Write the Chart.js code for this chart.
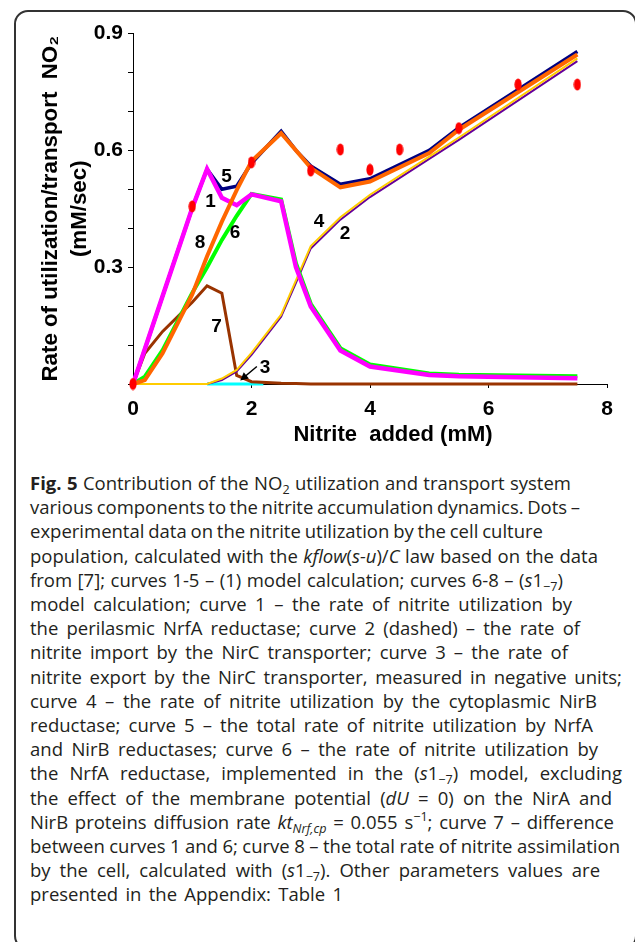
<!DOCTYPE html>
<html>
<head>
<meta charset="utf-8">
<script src="https://cdn.jsdelivr.net/npm/chart.js@4.4.0/dist/chart.umd.min.js"></script>
<style>
  html, body { margin: 0; padding: 0; background: #fff; }
  body { width: 635px; height: 942px; position: relative; overflow: hidden; }
  .frame { position: absolute; left: 14px; top: 10px; width: 623px; height: 940px; box-sizing: border-box;
           border: 2px solid #333; border-radius: 14px; }
  .chartbox { position: absolute; left: 0; top: 0; width: 635px; height: 460px; }
  .caption { position: absolute; left: 30px; top: 471px; font-family: "Open Sans", sans-serif; font-size: 18.5px;
             line-height: 24.2px; color: #231f20; white-space: nowrap; }
  .caption div { width: max-content; }
  .caption b { font-weight: 700; }
  .caption sub, .caption sup { font-size: 0.68em; line-height: 0; }
  .caption sub { vertical-align: -0.3em; }
  .caption sup { vertical-align: 0.6em; }
</style>
</head>
<body>
<div class="frame"></div>
<div class="chartbox"><canvas id="myChart"></canvas></div>
<div class="caption" id="caption">
<div><b>Fig. 5</b> Contribution of the NO<sub>2</sub> utilization and transport system</div>
<div>various components to the nitrite accumulation dynamics. Dots –</div>
<div>experimental data on the nitrite utilization by the cell culture</div>
<div>population, calculated with the <i>kflow</i>(<i>s-u</i>)/<i>C</i> law based on the data</div>
<div>from [7]; curves 1-5 – (1) model calculation; curves 6-8 – (<i>s</i>1<sub>−7</sub>)</div>
<div>model calculation; curve 1 – the rate of nitrite utilization by</div>
<div>the perilasmic NrfA reductase; curve 2 (dashed) – the rate of</div>
<div>nitrite import by the NirC transporter; curve 3 – the rate of</div>
<div>nitrite export by the NirC transporter, measured in negative units;</div>
<div>curve 4 – the rate of nitrite utilization by the cytoplasmic NirB</div>
<div>reductase; curve 5 – the total rate of nitrite utilization by NrfA</div>
<div>and NirB reductases; curve 6 – the rate of nitrite utilization by</div>
<div>the NrfA reductase, implemented in the (<i>s</i>1<sub>−7</sub>) model, excluding</div>
<div>the effect of the membrane potential (<i>dU</i> = 0) on the NirA and</div>
<div>NirB proteins diffusion rate <i>kt</i><sub><i>Nrf,cp</i></sub> = 0.055 s<sup>−1</sup>; curve 7 – difference</div>
<div>between curves 1 and 6; curve 8 – the total rate of nitrite assimilation</div>
<div>by the cell, calculated with (<i>s</i>1<sub>−7</sub>). Other parameters values are</div>
<div>presented in the Appendix: Table 1</div>
</div>
<script>
// nitrite added (mM), model grid
const gridX  = [0, 0.2, 0.5, 1, 1.25, 1.5, 1.75, 2, 2.5, 2.75, 3, 3.5, 4, 5, 5.5, 7.5];
// curve 1 - NrfA (magenta)
const curve1 = [0, 0.09, 0.226, 0.452, 0.552, 0.478, 0.459, 0.487, 0.469, 0.30, 0.199, 0.086, 0.045, 0.023, 0.02, 0.015];
// curve 2 - NirC import (purple)
const curve2 = [0, 0, 0, 0, 0, 0.01, 0.032, 0.075, 0.173, 0.26, 0.348, 0.422, 0.48, 0.578, 0.627, 0.829];
// curve 4 - NirB (yellow)
const curve4 = [0, 0, 0, 0, 0, 0.014, 0.036, 0.08, 0.178, 0.266, 0.354, 0.428, 0.486, 0.584, 0.633, 0.836];
// curve 5 - NrfA + NirB (navy)
const curve5 = [0, 0.09, 0.226, 0.452, 0.552, 0.50, 0.508, 0.567, 0.649, 0.60, 0.56, 0.513, 0.527, 0.60, 0.658, 0.854];
// curve 6 - NrfA, (s1-7) (green)
const curve6 = [0, 0.019, 0.087, 0.234, 0.30, 0.37, 0.432, 0.488, 0.474, 0.31, 0.206, 0.092, 0.05, 0.027, 0.024, 0.02];
// curve 7 - difference 1 and 6 (brown)
const curve7 = [0, 0.079, 0.135, 0.21, 0.252, 0.233, 0.022, 0.006, 0.002, 0.001, 0, 0, 0, 0, 0, 0];
// curve 8 - total assimilation (orange)
const curve8 = [0, 0.01, 0.079, 0.23, 0.328, 0.417, 0.498, 0.572, 0.644, 0.60, 0.555, 0.505, 0.52, 0.593, 0.653, 0.846];
// curve 3 - NirC export (cyan)
const curve3X = [1.25, 2.2];
const curve3Y = [0, 0];

// experimental dots
const dotX = [0, 1, 2, 3, 3.5, 4, 4.5, 5.5, 6.5, 7.5];
const dotY = [0, 0.456, 0.569, 0.548, 0.602, 0.55, 0.602, 0.657, 0.769, 0.769];

const xTickLabels = ['0', '2', '4', '6', '8'];
const yTickLabels = ['', '', '', '0.3', '', '', '0.6', '', '', '0.9'];

// numbers written next to the curves
const curveLabels = ['1', '2', '3', '4', '5', '6', '7', '8'];
const labelX = [1.31, 3.58, 2.23, 3.14, 1.58, 1.72, 1.41, 1.13];
const labelY = [0.469, 0.387, 0.042, 0.417, 0.533, 0.389, 0.147, 0.362];
const arrowFrom = [2.09, 0.045];
const arrowTo = [1.81, 0.009];

// right end (px) of each caption line in the original
const captionLineEnds = [571, 580, 543, 598, 563, 572, 580, 568, 622, 597, 593, 598, 622, 612, 614, 620, 600, 343];

function fitCaption() {
    const rows = document.getElementById('caption').children;
    for (let i = 0; i < rows.length; i++) {
        const row = rows[i];
        row.style.wordSpacing = '0px';
        const w = row.getBoundingClientRect().width;
        const gaps = (row.textContent.match(/ /g) || []).length;
        if (gaps > 0) {
            row.style.wordSpacing = ((captionLineEnds[i] - 30 - w) / gaps).toFixed(2) + 'px';
        }
    }
}
fitCaption();
if (document.fonts) document.fonts.ready.then(fitCaption);

function pts(xs, ys) {
    return xs.map(function(x, i) { return {x: x, y: ys[i]}; });
}

// red elliptic marker
const dot = document.createElement('canvas');
dot.width = 8;
dot.height = 13;
const dctx = dot.getContext('2d');
dctx.fillStyle = '#ff0000';
dctx.beginPath();
dctx.ellipse(4, 6.5, 3.6, 6, 0, 0, Math.PI * 2);
dctx.fill();

const fontFam = '"Liberation Sans", Arial, sans-serif';

const curveLabelPlugin = {
    id: 'curveLabels',
    afterDatasetsDraw(chart) {
        const ctx = chart.ctx, x = chart.scales.x, y = chart.scales.y;
        ctx.save();
        ctx.fillStyle = '#000';
        ctx.font = 'bold 19px ' + fontFam;
        ctx.textAlign = 'center';
        ctx.textBaseline = 'middle';
        for (let i = 0; i < curveLabels.length; i++) {
            ctx.fillText(curveLabels[i], x.getPixelForValue(labelX[i]), y.getPixelForValue(labelY[i]));
        }
        // arrow to curve 3
        const x0 = x.getPixelForValue(arrowFrom[0]), y0 = y.getPixelForValue(arrowFrom[1]);
        const x1 = x.getPixelForValue(arrowTo[0]), y1 = y.getPixelForValue(arrowTo[1]);
        const a = Math.atan2(y1 - y0, x1 - x0);
        ctx.strokeStyle = '#000';
        ctx.lineWidth = 1.5;
        ctx.beginPath();
        ctx.moveTo(x0, y0);
        ctx.lineTo(x1 - 5 * Math.cos(a), y1 - 5 * Math.sin(a));
        ctx.stroke();
        ctx.beginPath();
        ctx.moveTo(x1, y1);
        ctx.lineTo(x1 - 8 * Math.cos(a) + 4 * Math.sin(a), y1 - 8 * Math.sin(a) - 4 * Math.cos(a));
        ctx.lineTo(x1 - 8 * Math.cos(a) - 4 * Math.sin(a), y1 - 8 * Math.sin(a) + 4 * Math.cos(a));
        ctx.closePath();
        ctx.fill();
        // x axis title (sits a bit right of the axis centre in the original)
        const area = chart.chartArea;
        ctx.font = 'bold 22px ' + fontFam;
        ctx.fillText('Nitrite  added (mM)', (area.left + area.right) / 2 + 23, 435);
        ctx.restore();
    }
};

function line(label, data, color, width, order) {
    return {
        label: label, data: data, borderColor: color, backgroundColor: color,
        borderWidth: width, showLine: true, pointRadius: 0, tension: 0,
        fill: false, clip: false, order: order
    };
}

new Chart(document.getElementById('myChart'), {
    type: 'scatter',
    data: {
        datasets: [
            {label: 'dots', data: pts(dotX, dotY), pointStyle: dot, pointRadius: 5, showLine: false, clip: false, order: 0},
            line('8', pts(gridX, curve8), '#ff6600', 4, 1),
            line('1', pts(gridX, curve1), '#ff00ff', 4.5, 2),
            line('6', pts(gridX, curve6), '#00ff00', 4, 3),
            line('5', pts(gridX, curve5), '#000080', 3.5, 4),
            line('4', pts(gridX, curve4), '#ffcc00', 2, 5),
            line('2', pts(gridX, curve2), '#660099', 2, 6),
            line('7', pts(gridX, curve7), '#993300', 3, 7),
            line('3', pts(curve3X, curve3Y), '#00ffff', 3, 8)
        ]
    },
    options: {
        responsive: true,
        maintainAspectRatio: false,
        animation: false,
        layout: {padding: {left: 0, top: 33.5, right: 28, bottom: 0}},
        plugins: {legend: {display: false}, tooltip: {enabled: false}},
        scales: {
            x: {
                type: 'linear', min: 0, max: 8,
                ticks: {
                    stepSize: 2, autoSkip: false, padding: 9, color: '#000',
                    font: {family: fontFam, size: 21, weight: 'bold'},
                    callback: function(v) { return xTickLabels[Math.round(v / 2)]; }
                },
                grid: {drawOnChartArea: false, drawTicks: true, tickLength: 4, color: '#000'},
                border: {color: '#000', width: 1},
                afterFit: function(s) { s.height = 76; }
            },
            y: {
                min: 0, max: 0.9,
                ticks: {
                    stepSize: 0.1, autoSkip: false, padding: 5, color: '#000',
                    font: {family: fontFam, size: 21, weight: 'bold'},
                    callback: function(v) { return yTickLabels[Math.round(v * 10)]; }
                },
                grid: {drawOnChartArea: false, drawTicks: true, tickLength: 5, color: '#000'},
                border: {color: '#000', width: 1},
                title: {
                    display: true, color: '#000',
                    text: ['Rate of utilization/transport  NO₂', '(mM/sec)'],
                    font: {family: fontFam, size: 22.3, weight: 'bold', lineHeight: 1.3},
                    padding: {top: 36, bottom: 0}
                },
                afterFit: function(s) { s.width = 133; }
            }
        }
    },
    plugins: [curveLabelPlugin]
});
</script>
</body>
</html>
